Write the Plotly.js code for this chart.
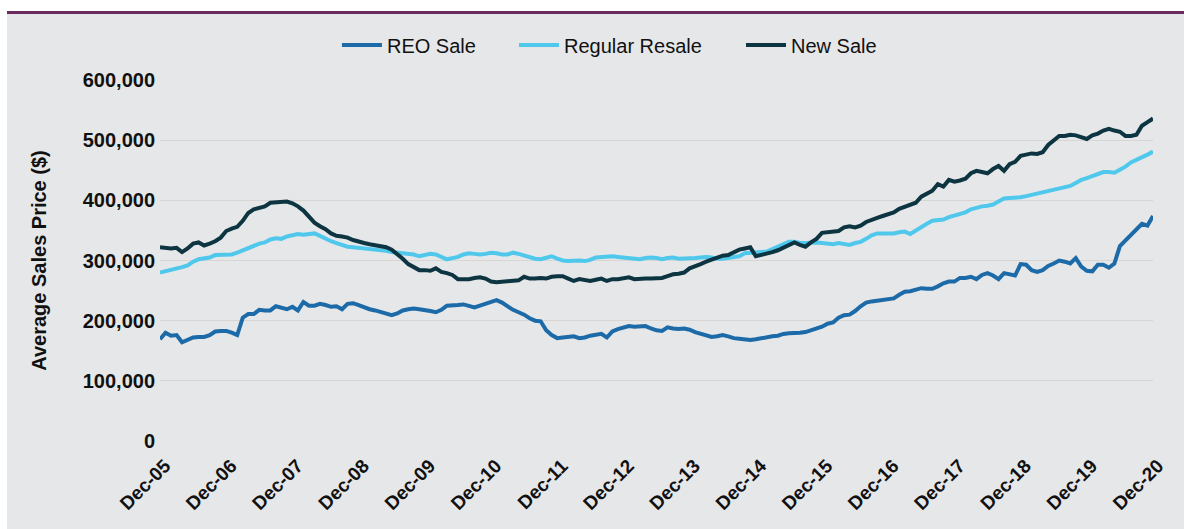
<!DOCTYPE html>
<html>
<head>
<meta charset="utf-8">
<script src="https://cdn.plot.ly/plotly-3.0.1.min.js"></script>
<style>
html,body{margin:0;padding:0;background:#ffffff;}
#chart{width:1184px;height:529px;}
</style>
</head>
<body>
<div id="chart"></div>
<script>
// X axis: monthly observations, Dec-05 .. Dec-20 (index 0 .. 180)
const xTickMonths = [0,12,24,36,48,60,72,84,96,108,120,132,144,156,168,180];
const xTickLabels = ['Dec-05','Dec-06','Dec-07','Dec-08','Dec-09','Dec-10','Dec-11','Dec-12',
                     'Dec-13','Dec-14','Dec-15','Dec-16','Dec-17','Dec-18','Dec-19','Dec-20'];

// Y axis (values in thousands of dollars)
const yTickValues = [0,100,200,300,400,500,600];
const yTickLabels = ['0','100,000','200,000','300,000','400,000','500,000','600,000'];

// Average sales price, thousands of $, one value per month
const reoSale = [
  169,180,175,176,164,168,172,173,173,176,182,183,
  183,180,176,205,211,211,218,217,217,224,221,219,
  223,217,231,225,225,228,226,223,224,219,228,229,
  226,222,219,217,214,212,209,212,217,219,220,219,
  218,216,214,218,225,225,226,227,224,222,225,228,
  232,234,230,224,218,214,210,204,200,199,184,176,
  171,172,173,174,171,172,175,176,178,172,182,186,
  189,191,190,191,191,187,184,183,189,187,186,187,
  185,181,178,175,173,174,176,174,171,170,169,168,
  169,171,172,174,175,178,179,179,180,181,184,187,
  190,195,197,205,209,210,216,224,230,232,233,234,
  235,237,243,248,249,251,254,253,253,257,262,265,
  265,271,271,273,269,276,279,275,269,279,277,275,
  294,293,284,281,284,291,295,300,298,295,304,290,
  283,282,293,293,288,295,324,333,342,351,361,358,
  374
];

const regularResale = [
  280,282,284,286,289,292,298,302,304,305,309,309,
  309,310,313,317,321,325,328,330,335,337,336,340,
  342,344,343,344,345,341,336,332,329,326,323,322,
  321,320,320,319,317,316,314,313,312,311,310,307,
  309,311,310,306,302,304,306,310,312,311,310,311,
  313,312,310,310,313,311,308,306,303,302,305,307,
  303,300,299,300,300,299,301,305,306,306,307,306,
  305,304,303,302,304,305,304,302,304,305,303,303,
  303,304,305,306,305,303,303,304,305,307,312,313,
  313,314,315,319,323,327,331,331,329,329,330,330,
  329,328,327,329,328,326,329,331,336,342,345,345,
  345,345,347,348,344,350,355,361,366,367,368,372,
  375,378,380,385,388,390,391,393,398,403,404,404,
  405,407,409,411,413,415,418,420,422,424,429,434,
  437,440,443,447,447,446,451,456,463,467,471,476,
  481
];

const newSale = [
  322,321,320,321,314,320,328,330,325,328,332,338,
  349,353,356,366,379,385,387,390,396,397,397,398,
  395,390,383,373,363,357,352,345,341,340,338,334,
  331,329,327,325,323,322,318,311,303,294,289,284,
  284,283,287,281,279,276,269,269,269,271,272,270,
  265,264,265,265,266,267,273,270,270,271,270,273,
  274,274,270,266,269,267,266,268,270,266,269,269,
  271,272,269,270,270,270,271,271,274,277,278,280,
  287,290,294,298,301,305,308,309,313,318,320,322,
  307,309,311,314,317,321,326,330,326,323,330,336,
  346,347,348,349,355,357,355,358,364,368,371,374,
  377,380,386,389,393,396,406,411,416,427,423,434,
  431,433,436,445,449,447,445,452,457,449,460,464,
  474,476,478,477,480,492,500,507,507,509,508,505,
  502,508,511,516,519,516,514,507,507,509,524,530,
  536
];

const seriesNames = ['REO Sale','Regular Resale','New Sale'];
const seriesColors = ['#1c6ba8','#4fc8ec','#0c3441'];

const months = reoSale.map((_, i) => i);
const FONT = '"Liberation Sans", Arial, Helvetica, sans-serif';

const traces = [reoSale, regularResale, newSale].map((ys, k) => ({
  type: 'scatter',
  mode: 'lines',
  x: months,
  y: ys,
  name: seriesNames[k],
  legend: ['legend','legend2','legend3'][k],
  line: {color: seriesColors[k], width: 4},
  hoverinfo: 'skip'
}));

function legendAt(xp) {
  return {
    x: xp, xanchor: 'left', y: 1.097, yanchor: 'middle',
    orientation: 'h', bgcolor: 'rgba(0,0,0,0)', borderwidth: 0,
    itemwidth: 40,
    font: {family: FONT, size: 20, color: '#111111'}
  };
}

const layout = {
  width: 1184, height: 529,
  margin: {l: 160, r: 31, t: 80, b: 88, pad: 0},
  paper_bgcolor: '#ffffff',
  plot_bgcolor: 'rgba(0,0,0,0)',
  font: {family: FONT, color: '#111111'},
  showlegend: true,
  legend: legendAt(0.1782),
  legend2: legendAt(0.3565),
  legend3: legendAt(0.5851),
  xaxis: {
    range: [0, 180],
    tickmode: 'array', tickvals: xTickMonths, ticktext: xTickLabels,
    tickangle: -45,
    tickfont: {family: FONT, size: 19, weight: 700, color: '#111111'},
    ticklabelstandoff: 9, ticklabelshift: 5,
    showgrid: false, zeroline: false, showline: false, ticks: '',
    fixedrange: true
  },
  yaxis: {
    range: [0, 600],
    tickmode: 'array', tickvals: yTickValues, ticktext: yTickLabels,
    tickfont: {family: FONT, size: 20, weight: 700, color: '#111111'},
    showgrid: true, gridcolor: '#d8d6d5', gridwidth: 1.3,
    zeroline: false, showline: false, ticks: '',
    ticklabelstandoff: 4,
    title: {text: 'Average Sales Price ($)', standoff: 30,
            font: {family: FONT, size: 20, weight: 700, color: '#111111'}},
    fixedrange: true
  },
  shapes: [
    {type: 'rect', xref: 'paper', yref: 'paper', layer: 'below',
     x0: -0.15408, x1: 1.04, y0: -0.26, y1: 1.18283,
     fillcolor: '#e6e7e9', line: {width: 0}},
    {type: 'line', xref: 'paper', yref: 'paper', layer: 'above',
     x0: -0.15408, x1: 1.04, y0: 1.18698, y1: 1.18698,
     line: {color: '#6c2b5f', width: 3}}
  ]
};

Plotly.newPlot('chart', traces, layout, {displayModeBar: false, staticPlot: true});
</script>
</body>
</html>
